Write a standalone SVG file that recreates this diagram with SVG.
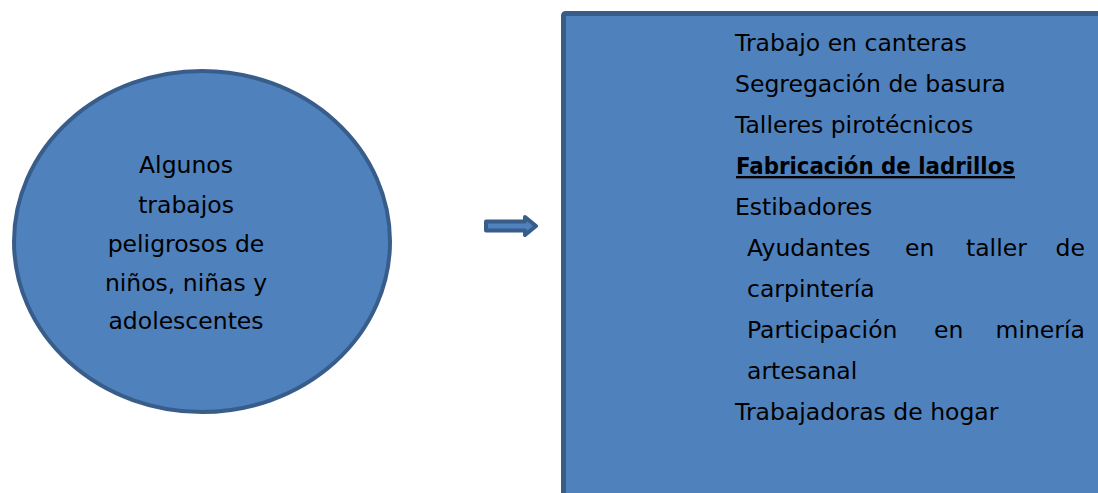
<svg xmlns="http://www.w3.org/2000/svg" width="1098" height="493" viewBox="0 0 1098 493">
  <style>
    .shape { fill: #4F81BD; stroke: #385D8A; }
    .t { font-family: "DejaVu Sans", "Liberation Sans", sans-serif; font-size: 23.5px; fill: #000000; }
    .c { text-anchor: middle; }
    .b { font-weight: bold; text-decoration: underline; }
  </style>
  <rect x="0" y="0" width="1098" height="493" fill="#FFFFFF"/>

  <g id="node-circle">
    <ellipse class="shape" cx="202" cy="241.5" rx="188" ry="170.5" stroke-width="4"/>
    <text class="t c" x="186" y="173">Algunos</text>
    <text class="t c" x="186" y="212.5">trabajos</text>
    <text class="t c" x="186" y="251.5">peligrosos de</text>
    <text class="t c" x="186" y="290.5">niños, niñas y</text>
    <text class="t c" x="186" y="329">adolescentes</text>
  </g>

  <g id="connectors">
    <path class="shape" stroke-width="4" stroke-linejoin="round" d="M486,221.5 L525,221.5 L525,217 L536,226 L525,235 L525,230.5 L486,230.5 Z"/>
  </g>

  <g id="node-list">
    <rect class="shape" x="563.5" y="13.5" width="600" height="600" rx="2" stroke-width="5"/>
    <text class="t" x="735" y="51">Trabajo en canteras</text>
    <text class="t" x="735" y="92">Segregación de basura</text>
    <text class="t" x="735" y="133">Talleres pirotécnicos</text>
    <text class="t b" x="736" y="174" textLength="279" lengthAdjust="spacingAndGlyphs">Fabricación de ladrillos</text>
    <text class="t" x="735" y="215">Estibadores</text>
    <text class="t" y="256"><tspan x="747">Ayudantes</tspan><tspan x="905">en</tspan><tspan x="966">taller</tspan><tspan x="1055.5">de</tspan></text>
    <text class="t" x="747" y="297">carpintería</text>
    <text class="t" y="338"><tspan x="747">Participación</tspan><tspan x="934">en</tspan><tspan x="995.5">minería</tspan></text>
    <text class="t" x="747" y="379">artesanal</text>
    <text class="t" x="735" y="420">Trabajadoras de hogar</text>
  </g>
</svg>
